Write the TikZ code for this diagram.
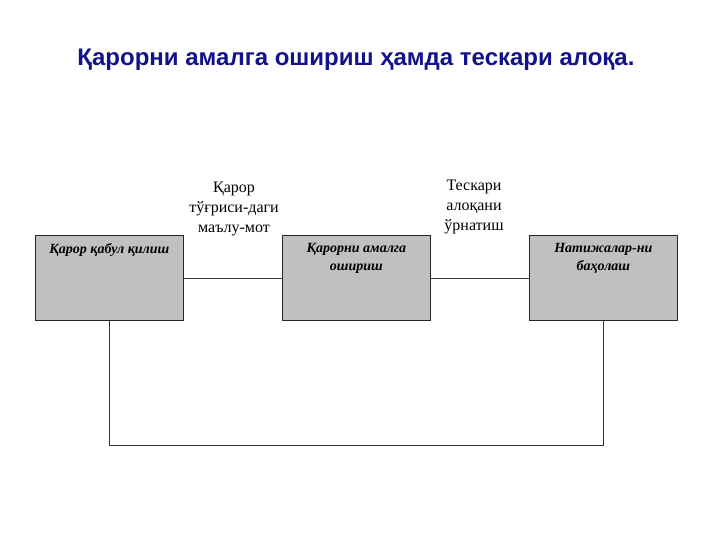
\documentclass[tikz,border=0pt]{standalone}
\usepackage{fontspec}
\setmainfont{Liberation Serif}
\newfontfamily\titlefont{Liberation Sans}
\definecolor{titleblue}{RGB}{18,18,140}
\definecolor{boxgray}{RGB}{192,192,192}
\begin{document}
\begin{tikzpicture}[x=1pt,y=-1pt,
  procbox/.style={draw=black!85,line width=0.8pt,fill=boxgray,minimum width=148pt,minimum height=85pt,anchor=north west,inner sep=0pt},
  boxtext/.style={font=\fontsize{14}{17.5}\selectfont\bfseries\itshape,align=center,anchor=north},
  lbl/.style={font=\fontsize{16}{19.8}\selectfont,align=center},
  conn/.style={draw=black!80,line width=0.6pt}]
\useasboundingbox (0,0) rectangle (720,540);
\node[font=\titlefont\fontsize{24}{26}\selectfont\bfseries,text=titleblue] (title) at (356,60) {Қарорни амалга ошириш ҳамда тескари алоқа.};
\node[procbox] (b1) at (35,235) {};
\node[procbox] (b2) at (282,235) {};
\node[procbox] (b3) at (529,235) {};
\node[boxtext] (t1) at ([yshift=-5pt]b1.north) {Қарор қабул қилиш};
\node[boxtext] (t2) at ([yshift=-5pt]b2.north) {Қарорни амалга\\ошириш};
\node[boxtext] (t3) at ([yshift=-5pt]b3.north) {Натижалар-ни\\баҳолаш};
\node[lbl] (l1) at (234,209) {Қарор\\тўғриси-даги\\маълу-мот};
\node[lbl] (l2) at (474,207) {Тескари\\алоқани\\ўрнатиш};
\draw[conn] (b1.east) -- (b2.west);
\draw[conn] (b2.east) -- (b3.west);
\coordinate (c1) at (b1.south |- 0,445);
\coordinate (c2) at (b3.south |- 0,445);
\draw[conn] (b1.south) -- (c1) -- (c2) -- (b3.south);
\end{tikzpicture}
\end{document}
